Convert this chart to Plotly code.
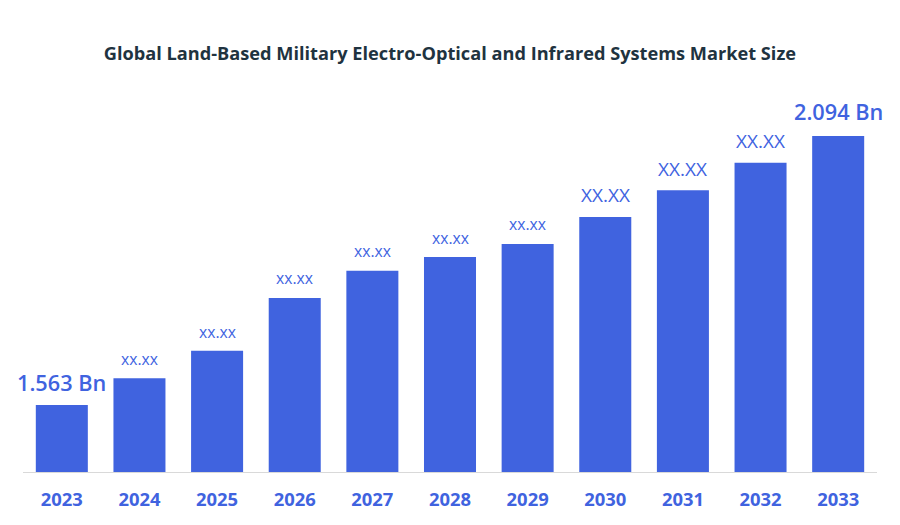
import plotly.graph_objects as go

years = ["2023","2024","2025","2026","2027","2028","2029","2030","2031","2032","2033"]
values = [1.563,1.616,1.670,1.774,1.828,1.855,1.881,1.934,1.987,2.041,2.094]
labels = ["1.563 Bn","xx.xx","xx.xx","xx.xx","xx.xx","xx.xx","xx.xx","XX.XX","XX.XX","XX.XX","2.094 Bn"]
label_sizes = [21.7,15.7,15.7,15.7,15.7,15.7,15.7,19,19,19,21.7]
label_weights = [600,400,400,400,400,400,400,400,400,400,600]
label_shifts = [22,19,19,20,20,19,20,22,21,22,24]
title = "Global Land-Based Military Electro-Optical and Infrared Systems Market Size"
BLUE = "#4063DF"

fig = go.Figure(go.Bar(
    x=years, y=values, width=0.67, marker=dict(color=BLUE, line=dict(width=0)),
    hoverinfo="skip"))
for i, (v, lab, sz, w, s) in enumerate(zip(values, labels, label_sizes, label_weights, label_shifts)):
    fig.add_annotation(x=i, y=v, text=lab, showarrow=False, xanchor="center", yanchor="middle",
                       yshift=s,
                       font=dict(color=BLUE, size=sz, family="Open Sans", weight=w))
fig.update_layout(
    width=900, height=525, margin=dict(l=15, r=31, t=0, b=61),
    paper_bgcolor="white", plot_bgcolor="white", showlegend=False, bargap=0.33,
    title=dict(text="<b>"+title+"</b>", x=0.491, xanchor="center", y=0.914, yanchor="middle",
               font=dict(size=18.2, color="#1F3340", family="Open Sans")),
    xaxis=dict(type="category", range=[-0.5, 10.5], showgrid=False, showline=True,
               linecolor="#D9D9D9", linewidth=1,
               ticks="outside", ticklen=11, tickcolor="rgba(0,0,0,0)",
               tickfont=dict(size=18.4, color=BLUE, family="Open Sans", weight=700)),
    yaxis=dict(visible=False, range=[1.4307, 2.3466], showgrid=False, zeroline=False),
)
fig.write_html("out.html")
